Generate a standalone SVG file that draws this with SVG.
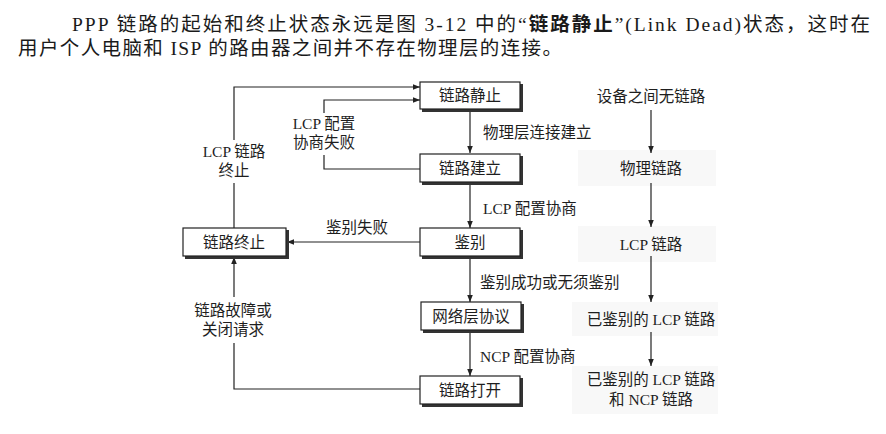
<svg xmlns="http://www.w3.org/2000/svg" width="886" height="434" viewBox="0 0 886 434">
  <style>
    .para { font-family: "Liberation Serif", "Noto Sans CJK SC", serif; font-size: 19.5px; fill: #1a1a1a; }
    .lbl { font-family: "Liberation Serif", "Noto Sans CJK SC", serif; font-size: 15.5px; fill: #1e1e1e; }
    .mid { text-anchor: middle; }
    .box { fill: #ffffff; stroke: #222; stroke-width: 1.2; }
    .shadow { fill: #333; }
    .wire { fill: none; stroke: #222; stroke-width: 1.2; }
    .haze { fill: #f8f8f8; }
  </style>
  <defs>
    <marker id="arrow" viewBox="0 0 10 10" refX="10" refY="5" markerWidth="7" markerHeight="7" markerUnits="userSpaceOnUse" orient="auto">
      <path d="M0,1 L10,5 L0,9 Z" fill="#222"/>
    </marker>
  </defs>

  <rect width="886" height="434" fill="#ffffff"/>

  <!-- paragraph above the figure -->
  <text class="para" x="72" y="31" textLength="798" lengthAdjust="spacing">PPP 链路的起始和终止状态永远是图 3-12 中的“<tspan font-weight="bold">链路静止</tspan>”(Link Dead)状态，这时在</text>
  <text class="para" x="18" y="55" textLength="544" lengthAdjust="spacing">用户个人电脑和 ISP 的路由器之间并不存在物理层的连接。</text>

  <!-- faint panels behind the link-state column -->
  <rect class="haze" x="578" y="150" width="138" height="36"/>
  <rect class="haze" x="578" y="226" width="138" height="36"/>
  <rect class="haze" x="572" y="302" width="146" height="34"/>
  <rect class="haze" x="572" y="366" width="146" height="48"/>

  <!-- connectors -->
  <g id="connectors">
    <line class="wire" x1="470" y1="110" x2="470" y2="153" marker-end="url(#arrow)"/>
    <line class="wire" x1="470" y1="183" x2="470" y2="228" marker-end="url(#arrow)"/>
    <line class="wire" x1="470" y1="257" x2="470" y2="302" marker-end="url(#arrow)"/>
    <line class="wire" x1="470" y1="332" x2="470" y2="376" marker-end="url(#arrow)"/>

    <!-- LCP link termination back to dead -->
    <polyline class="wire" points="234,228 234,183"/>
    <polyline class="wire" points="234,140 234,87 420,87" marker-end="url(#arrow)"/>

    <!-- LCP negotiation failure loop -->
    <polyline class="wire" points="420,169 324,169 324,155"/>
    <polyline class="wire" points="324,113 324,100 420,100" marker-end="url(#arrow)"/>

    <!-- authentication failure -->
    <line class="wire" x1="420" y1="242" x2="287" y2="242" marker-end="url(#arrow)"/>

    <!-- link failure / close request -->
    <polyline class="wire" points="420,389 234,389 234,343"/>
    <line class="wire" x1="234" y1="297" x2="234" y2="257" marker-end="url(#arrow)"/>

    <!-- link-state column -->
    <line class="wire" x1="651" y1="110" x2="651" y2="153" marker-end="url(#arrow)"/>
    <line class="wire" x1="651" y1="183" x2="651" y2="227" marker-end="url(#arrow)"/>
    <line class="wire" x1="651" y1="256" x2="651" y2="302" marker-end="url(#arrow)"/>
    <line class="wire" x1="651" y1="332" x2="651" y2="366" marker-end="url(#arrow)"/>
  </g>

  <!-- connector labels -->
  <g id="edge-labels">
    <text class="lbl" x="483" y="138">物理层连接建立</text>
    <text class="lbl" x="483" y="214">LCP 配置协商</text>
    <text class="lbl" x="480" y="288">鉴别成功或无须鉴别</text>
    <text class="lbl" x="480" y="362">NCP 配置协商</text>
    <text class="lbl mid" x="234" y="157">LCP 链路</text>
    <text class="lbl mid" x="234" y="176">终止</text>
    <text class="lbl mid" x="324" y="129">LCP 配置</text>
    <text class="lbl mid" x="324" y="148">协商失败</text>
    <text class="lbl mid" x="357" y="233">鉴别失败</text>
    <text class="lbl mid" x="233" y="316">链路故障或</text>
    <text class="lbl mid" x="233" y="335">关闭请求</text>
  </g>

  <!-- state boxes -->
  <g id="dead">
    <rect class="shadow" x="422" y="84" width="101" height="28"/>
    <rect class="box" x="420" y="82" width="100" height="27"/>
    <text class="lbl mid" x="470" y="101">链路静止</text>
  </g>
  <g id="establish">
    <rect class="shadow" x="422" y="156" width="101" height="29"/>
    <rect class="box" x="420" y="154" width="100" height="28"/>
    <text class="lbl mid" x="470" y="174">链路建立</text>
  </g>
  <g id="authenticate">
    <rect class="shadow" x="422" y="230" width="101" height="29"/>
    <rect class="box" x="420" y="228" width="100" height="28"/>
    <text class="lbl mid" x="470" y="248">鉴别</text>
  </g>
  <g id="network">
    <rect class="shadow" x="423" y="304" width="101" height="29"/>
    <rect class="box" x="421" y="302" width="100" height="28"/>
    <text class="lbl mid" x="471" y="322">网络层协议</text>
  </g>
  <g id="open">
    <rect class="shadow" x="422" y="378" width="101" height="29"/>
    <rect class="box" x="420" y="376" width="100" height="28"/>
    <text class="lbl mid" x="470" y="396">链路打开</text>
  </g>
  <g id="terminate">
    <rect class="shadow" x="185" y="230" width="104" height="29"/>
    <rect class="box" x="183" y="228" width="103" height="28"/>
    <text class="lbl mid" x="234" y="248">链路终止</text>
  </g>

  <!-- link-state column -->
  <g id="no-link"><text class="lbl mid" x="651" y="102">设备之间无链路</text></g>
  <g id="physical-link"><text class="lbl mid" x="651" y="174">物理链路</text></g>
  <g id="lcp-link"><text class="lbl mid" x="651" y="250">LCP 链路</text></g>
  <g id="auth-lcp-link"><text class="lbl mid" x="651" y="325">已鉴别的 LCP 链路</text></g>
  <g id="auth-lcp-ncp-link">
    <text class="lbl mid" x="651" y="385">已鉴别的 LCP 链路</text>
    <text class="lbl mid" x="651" y="405">和 NCP 链路</text>
  </g>
</svg>
